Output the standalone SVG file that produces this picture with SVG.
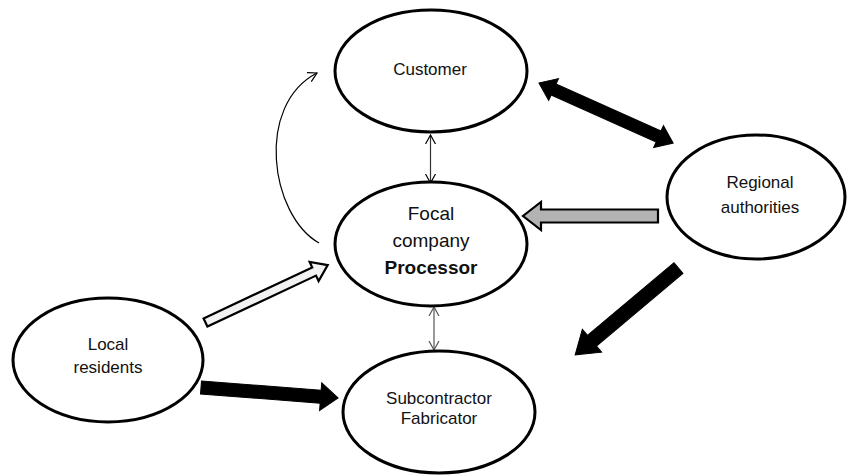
<svg xmlns="http://www.w3.org/2000/svg" width="847" height="476" viewBox="0 0 847 476">
<style>
.node ellipse{fill:#fff;stroke:#000;stroke-width:3}
.node text{font-family:"Liberation Sans",Arial,sans-serif;font-size:17px;fill:#111;text-anchor:middle}
.thin{fill:none;stroke-width:1.2}
.blk{fill:#000;stroke:#000;stroke-width:1}
</style>
<defs>
<marker id="open" markerUnits="userSpaceOnUse" markerWidth="12" markerHeight="12" refX="9" refY="5" orient="auto-start-reverse" viewBox="0 0 12 10">
<path d="M0,0 L9,5 L0,10" fill="none" stroke="context-stroke" stroke-width="1.2"/>
</marker>
<marker id="openK" markerUnits="userSpaceOnUse" markerWidth="12" markerHeight="12" refX="9" refY="5" orient="auto-start-reverse" viewBox="0 0 12 10">
<path d="M0,0 L9,5 L0,10" fill="none" stroke="#000" stroke-width="1.2"/>
</marker>
<marker id="openG" markerUnits="userSpaceOnUse" markerWidth="12" markerHeight="12" refX="9" refY="5" orient="auto-start-reverse" viewBox="0 0 12 10">
<path d="M0,0 L9,5 L0,10" fill="none" stroke="#555" stroke-width="1.2"/>
</marker>
</defs>
<g id="connectors">
<path class="thin" d="M319,243 C270,215 255,105 317,73" stroke="#000" marker-end="url(#openK)"/>
<line class="thin" x1="430.5" y1="135" x2="430.5" y2="183" stroke="#333" marker-start="url(#openK)" marker-end="url(#openK)"/>
<line class="thin" x1="434" y1="307" x2="434" y2="350" stroke="#555" marker-start="url(#openG)" marker-end="url(#openG)"/>
<path class="blk" transform="translate(539,83) rotate(24.12)" d="M0,0 L16,-12 L16,-6 L131,-6 L131,-12 L147,0 L131,12 L131,6 L16,6 L16,12 Z"/>
<path transform="translate(658,216) rotate(180)" d="M0,-6.5 L117,-6.5 L117,-14 L135,0 L117,14 L117,6.5 L0,6.5 Z" fill="#b3b3b3" stroke="#000" stroke-width="2.2"/>
<path class="blk" transform="translate(678.5,268) rotate(139.95)" d="M0,-7 L113,-7 L113,-15 L135,0 L113,15 L113,7 L0,7 Z"/>
<path transform="translate(205.5,322.5) rotate(-25.14)" d="M0,-4.5 L120,-4.5 L120,-10.5 L135,0 L120,10.5 L120,4.5 L0,4.5 Z" fill="#f2f2f2" stroke="#000" stroke-width="2.2"/>
<path class="blk" transform="translate(201,387.5) rotate(4.38)" d="M0,-6.5 L120,-6.5 L120,-14 L137.5,0 L120,14 L120,6.5 L0,6.5 Z"/>
</g>
<g id="customer" class="node">
<ellipse cx="431" cy="71" rx="96" ry="61"/>
<text x="430" y="75">Customer</text>
</g>
<g id="focal" class="node">
<ellipse cx="431" cy="244" rx="96" ry="62"/>
<text x="431" y="220" style="font-size:19px">Focal</text>
<text x="431" y="247" style="font-size:19px">company</text>
<text x="431" y="274" style="font-size:19px;font-weight:bold">Processor</text>
</g>
<g id="regional" class="node">
<ellipse cx="756" cy="197" rx="89" ry="62"/>
<text x="760" y="188">Regional</text>
<text x="760" y="213">authorities</text>
</g>
<g id="local" class="node">
<ellipse cx="108" cy="360" rx="95" ry="62"/>
<text x="108" y="350">Local</text>
<text x="108" y="373">residents</text>
</g>
<g id="subcontractor" class="node">
<ellipse cx="439" cy="412" rx="96" ry="61"/>
<text x="439" y="404">Subcontractor</text>
<text x="439" y="424">Fabricator</text>
</g>
</svg>
